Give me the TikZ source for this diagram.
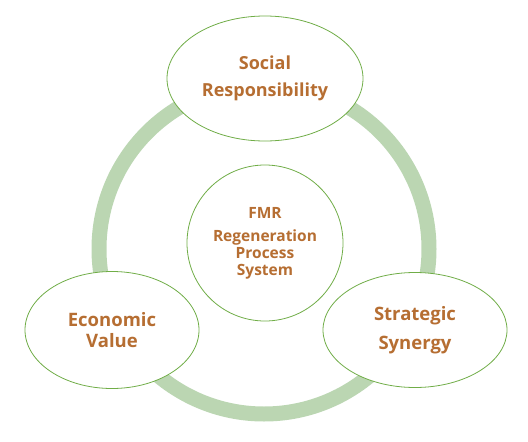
\documentclass[tikz,border=0pt]{standalone}
\usepackage{fontspec}
\setmainfont{Open Sans}
\usepackage{tikz}
\usetikzlibrary{shapes}
\usepackage{xcolor}
\definecolor{ringgreen}{RGB}{187,214,178}
\definecolor{edgegreen}{RGB}{112,173,71}
\definecolor{labelbrown}{RGB}{182,110,50}

\begin{document}
\begin{tikzpicture}[x=1pt,y=-1pt,thick]
\tikzstyle{bubble}=[ellipse,draw=edgegreen,line width=.8pt,fill=white,inner sep=0pt,align=center,text=labelbrown]
\tikzstyle{ring}=[circle,draw=ringgreen,line width=15pt,inner sep=0pt,minimum size=330pt]
  \useasboundingbox (0,0) rectangle (528,442);
  \node(ring)at(264,249)[ring]{};
  \node(social)at(265,78.5)[bubble,minimum width=196pt,minimum height=125pt,font=\bfseries\fontsize{18}{27}\selectfont]{Social\\Responsibility};
  \node(economic)at(112,330)[bubble,minimum width=174pt,minimum height=117pt,font=\bfseries\fontsize{18.5}{21}\selectfont]{Economic\\Value};
  \node(strategic)at(415,330)[bubble,minimum width=184pt,minimum height=115pt,font=\bfseries\fontsize{18.5}{29}\selectfont]{Strategic\\Synergy};
  \node(fmr)at(265,243)[bubble,circle,minimum size=156pt,font=\bfseries\fontsize{15.5}{17}\selectfont]{FMR\\[6pt]Regeneration\\Process\\System};
\end{tikzpicture}
\end{document}
